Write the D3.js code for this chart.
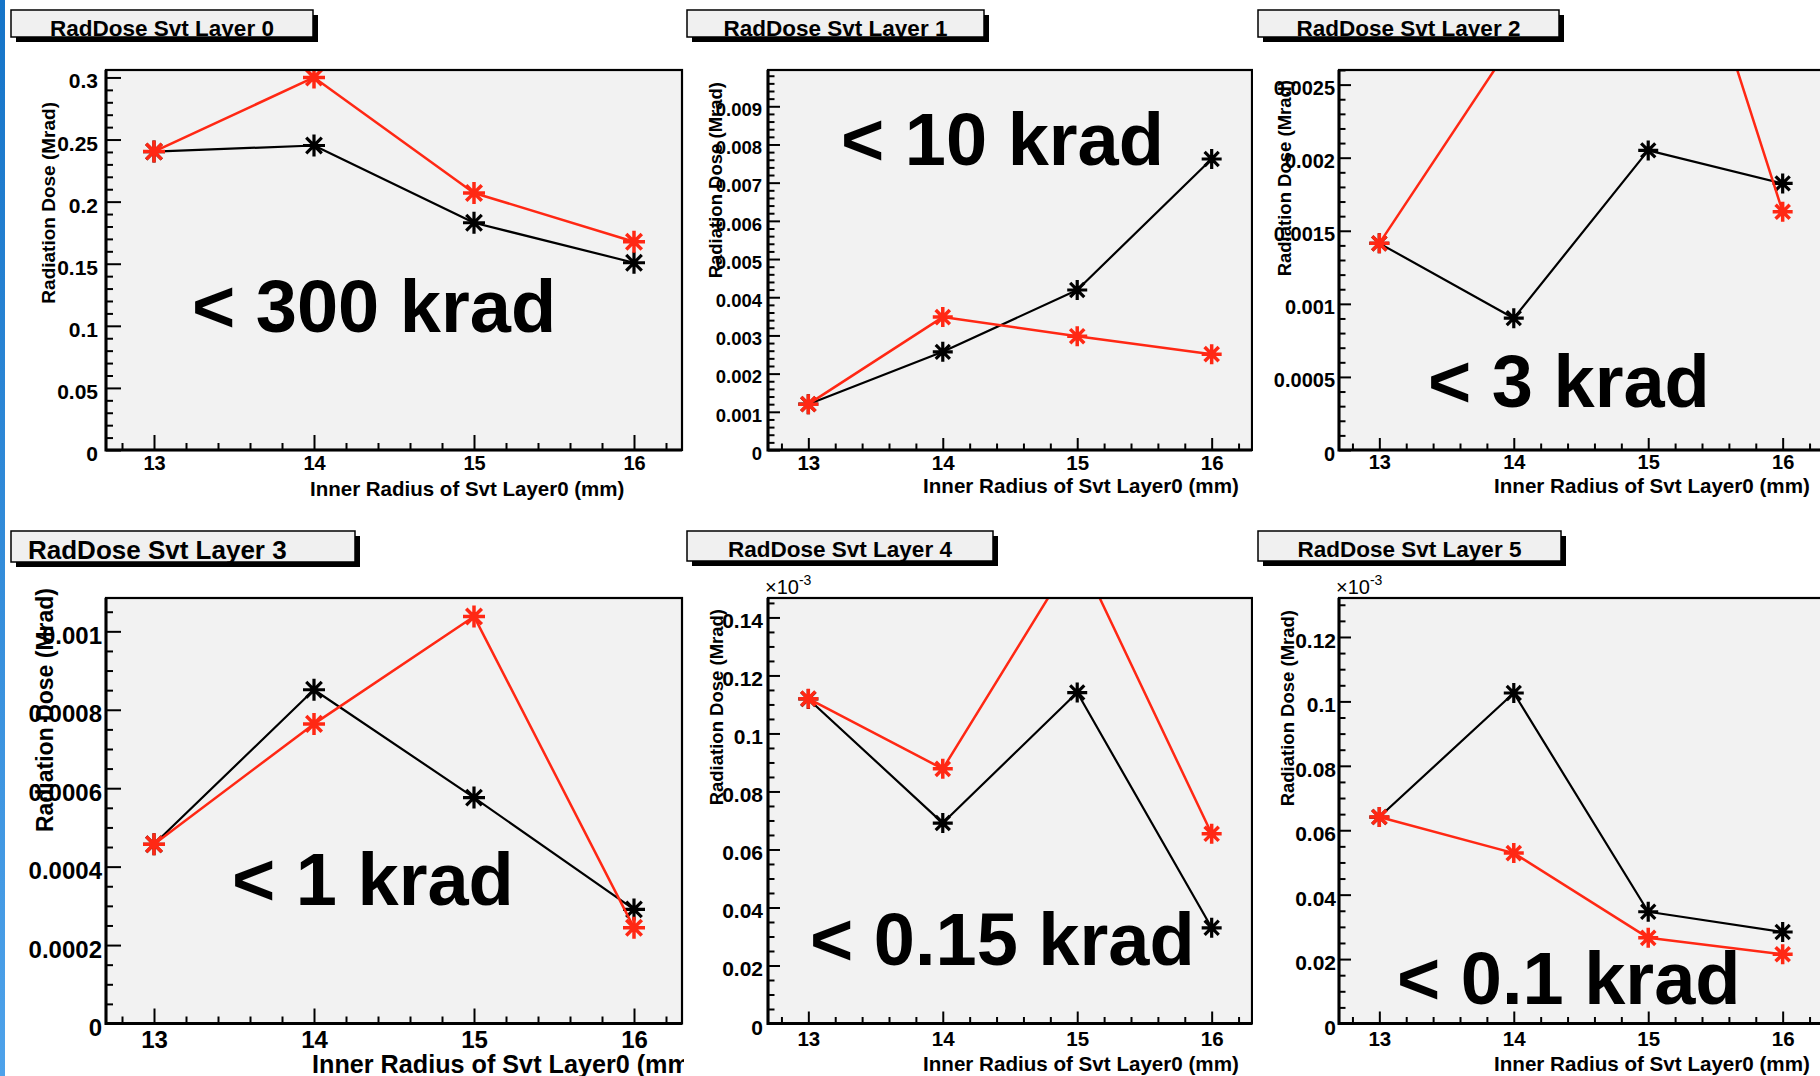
<!DOCTYPE html>
<html>
<head>
<meta charset="utf-8">
<script src="https://cdn.jsdelivr.net/npm/d3@7"></script>
<style>
  body { margin: 0; background: #fff; }
  svg { display: block; }
</style>
</head>
<body>
<div id="chart"></div>
<script>
//x values shared by every pad (inner radius of Svt layer0, mm)
var radius = [13, 14, 15, 16];

//radiation dose in Mrad, black and red set for each layer
var layer0Black = [0.2403, 0.2452, 0.1830, 0.1508];
var layer0Red   = [0.2403, 0.3000, 0.2070, 0.1677];
var layer1Black = [0.00120, 0.00257, 0.00419, 0.00762];
var layer1Red   = [0.00120, 0.00348, 0.00298, 0.00251];
var layer2Black = [0.001414, 0.000902, 0.00205, 0.001824];
var layer2Red   = [0.001414, 0.00280, 0.00450, 0.00163];
var layer3Black = [0.000457, 0.000851, 0.000576, 0.000291];
var layer3Red   = [0.000457, 0.000764, 0.001038, 0.000244];
var layer4Black = [0.1119e-3, 0.0691e-3, 0.1141e-3, 0.0330e-3];
var layer4Red   = [0.1120e-3, 0.0878e-3, 0.1630e-3, 0.0654e-3];
var layer5Black = [0.0641e-3, 0.1026e-3, 0.0347e-3, 0.0284e-3];
var layer5Red   = [0.0641e-3, 0.0529e-3, 0.0266e-3, 0.0215e-3];

var titles = ["RadDose Svt Layer 0", "RadDose Svt Layer 1", "RadDose Svt Layer 2",
              "RadDose Svt Layer 3", "RadDose Svt Layer 4", "RadDose Svt Layer 5"];
var notes = ["< 300 krad", "< 10 krad", "< 3 krad", "< 1 krad", "< 0.15 krad", "< 0.1 krad"];
var xTitle = "Inner Radius of Svt Layer0 (mm)";
var yTitle = "Radiation Dose (Mrad)";

var xRange = [12.7, 16.3];
var red = "#ff2814";
var font = "'Liberation Sans', Arial, Helvetica, sans-serif";

//pad layout: frame = [x0, y0, x1, y1], box = [x, y, w, h], text spots = [x, baseline, size]
var pads = [
  {title: titles[0], noteText: notes[0], black: layer0Black, red: layer0Red,
   yMax: 0.306, step: 0.05, minor: 0.01, unit: 1,
   frame: [106, 70, 682, 450], crop: [6, 0, 684, 520],
   box: [11, 10, 302, 27], boxText: [null, 36, 22.5],
   yFont: 21, xFont: 20, yPad: 8, xPad: 6, major: 15, minorLen: 7, marker: 11,
   xTitle: [310, 496, 20.5], yTitle: [55, 102, 19], note: [192, 332]},
  {title: titles[1], noteText: notes[1], black: layer1Black, red: layer1Red,
   yMax: 0.00995, step: 0.001, minor: 0.0002, unit: 1,
   frame: [768, 70, 1252, 450], crop: [684, 0, 1253, 520],
   box: [687, 10, 297, 27], boxText: [null, 36, 22.5],
   yFont: 18.5, xFont: 20.5, yPad: 6, xPad: 5, major: 12, minorLen: 6.5, marker: 10,
   xTitle: [923, 493, 20.6], yTitle: [722, 82, 18.5], note: [841, 165]},
  {title: titles[2], noteText: notes[2], black: layer2Black, red: layer2Red,
   yMax: 0.0026, step: 0.0005, minor: 0.0001, unit: 1,
   frame: [1339, 70, 1823, 450], crop: [1253, 0, 1820, 520],
   box: [1258, 10, 301, 27], boxText: [null, 36, 22.5],
   yFont: 20, xFont: 20, yPad: 4, xPad: 5, major: 12, minorLen: 6.5, marker: 10,
   xTitle: [1494, 493, 20.6], yTitle: [1291, 80, 18.5], note: [1428, 407]},
  {title: titles[3], noteText: notes[3], black: layer3Black, red: layer3Red,
   yMax: 0.001085, step: 0.0002, minor: 0.00005, unit: 1,
   frame: [106, 598, 682, 1023.5], crop: [6, 520, 684, 1076],
   box: [11, 531, 344, 31], boxText: [28, 559, 26],
   yFont: 24, xFont: 24, yPad: 4, xPad: 7, major: 15, minorLen: 7, marker: 11,
   xTitle: [312, 1073, 25.2], yTitle: [53, 588, 23], note: [232, 905]},
  {title: titles[4], noteText: notes[4], black: layer4Black, red: layer4Red,
   yMax: 0.1467e-3, step: 0.02e-3, minor: 0.005e-3, unit: 1e-3, exp: [765, 594],
   frame: [768, 598, 1252, 1023.5], crop: [684, 520, 1253, 1076],
   box: [687, 531, 306, 30], boxText: [null, 557, 22.5],
   yFont: 21, xFont: 20.5, yPad: 5, xPad: 8, major: 12, minorLen: 6.5, marker: 10,
   xTitle: [923, 1071, 20.6], yTitle: [723, 609, 18.5], note: [810, 965]},
  {title: titles[5], noteText: notes[5], black: layer5Black, red: layer5Red,
   yMax: 0.1321e-3, step: 0.02e-3, minor: 0.005e-3, unit: 1e-3, exp: [1336, 594],
   frame: [1339, 598, 1823, 1023.5], crop: [1253, 520, 1820, 1076],
   box: [1258, 531, 303, 30], boxText: [null, 557, 22.5],
   yFont: 21, xFont: 20.5, yPad: 3, xPad: 8, major: 12, minorLen: 6.5, marker: 10,
   xTitle: [1494, 1071, 20.6], yTitle: [1294, 610, 18.5], note: [1397, 1004]}
];

var svg = d3.select("#chart").append("svg")
  .attr("width", 1820)
  .attr("height", 1076)
  .attr("font-family", font)
  .attr("font-weight", "bold");

var defs = svg.append("defs");

//white slide with the blue strip on its left edge
svg.append("rect").attr("width", 1820).attr("height", 1076).attr("fill", "#fff");
var grad = defs.append("linearGradient").attr("id", "edge")
  .attr("x1", 0).attr("y1", 0).attr("x2", 0).attr("y2", 1);
grad.append("stop").attr("offset", "0%").attr("stop-color", "#1574c8");
grad.append("stop").attr("offset", "100%").attr("stop-color", "#4ea2ea");
svg.append("rect").attr("x", 0).attr("y", 0).attr("width", 5).attr("height", 1076)
  .attr("fill", "url(#edge)");

//tick positions 0, step, 2*step ... up to max
function tickList(max, step) {
  var n = Math.floor(max / step + 1e-6);
  return d3.range(n + 1).map(function(i) { return +(i * step).toPrecision(8); });
}

//ROOT marker 3 (asterisk)
function star(r) {
  var d = r * 0.7071;
  return "M" + (-r) + ",0L" + r + ",0M0," + (-r) + "L0," + r +
    "M" + (-d) + "," + (-d) + "L" + d + "," + d + "M" + (-d) + "," + d + "L" + d + "," + (-d);
}

function styleAxis(sel, size) {
  sel.attr("font-family", font).attr("font-size", size);
  sel.select(".domain").remove();
  sel.selectAll("line").attr("stroke", "#000").attr("stroke-width", 2);
  sel.selectAll("text").attr("fill", "#000");
}

function drawPad(p, i) {
  defs.append("clipPath").attr("id", "crop" + i).append("rect")
    .attr("x", p.crop[0]).attr("y", p.crop[1])
    .attr("width", p.crop[2] - p.crop[0]).attr("height", p.crop[3] - p.crop[1]);
  var g = svg.append("g").attr("clip-path", "url(#crop" + i + ")");

  var x = d3.scaleLinear().domain(xRange).range([p.frame[0], p.frame[2]]);
  var y = d3.scaleLinear().domain([0, p.yMax]).range([p.frame[3], p.frame[1]]);

  //title box with drop shadow
  g.append("rect")
    .attr("x", p.box[0] + 5).attr("y", p.box[1] + 5)
    .attr("width", p.box[2]).attr("height", p.box[3])
    .attr("fill", "#000");
  g.append("rect")
    .attr("x", p.box[0]).attr("y", p.box[1])
    .attr("width", p.box[2]).attr("height", p.box[3])
    .attr("fill", "#f0f0f0").attr("stroke", "#000").attr("stroke-width", 1.5);
  defs.append("clipPath").attr("id", "box" + i).append("rect")
    .attr("x", p.box[0]).attr("y", p.box[1])
    .attr("width", p.box[2]).attr("height", p.box[3]);
  var centred = p.boxText[0] === null;
  g.append("text")
    .attr("clip-path", "url(#box" + i + ")")
    .attr("x", centred ? p.box[0] + p.box[2] / 2 : p.boxText[0])
    .attr("y", p.boxText[1])
    .attr("text-anchor", centred ? "middle" : "start")
    .attr("font-size", p.boxText[2])
    .text(p.title);

  //frame background
  g.append("rect")
    .attr("x", p.frame[0]).attr("y", p.frame[1])
    .attr("width", p.frame[2] - p.frame[0]).attr("height", p.frame[3] - p.frame[1])
    .attr("fill", "#f2f2f2");

  //graphs, clipped to the frame
  defs.append("clipPath").attr("id", "frame" + i).append("rect")
    .attr("x", p.frame[0]).attr("y", p.frame[1])
    .attr("width", p.frame[2] - p.frame[0]).attr("height", p.frame[3] - p.frame[1]);
  var plot = g.append("g").attr("clip-path", "url(#frame" + i + ")");

  var series = [
    {values: p.black, color: "#000", width: 2.2},
    {values: p.red, color: red, width: 2.5}
  ];
  series.forEach(function(s) {
    var pts = radius.map(function(r, j) { return [r, s.values[j]]; });
    var line = d3.line()
      .x(function(d) { return x(d[0]); })
      .y(function(d) { return y(d[1]); });
    plot.append("path").datum(pts)
      .attr("d", line)
      .attr("fill", "none")
      .attr("stroke", s.color)
      .attr("stroke-width", s.width)
      .attr("stroke-linejoin", "round");
    plot.selectAll(null).data(pts).enter().append("path")
      .attr("transform", function(d) { return "translate(" + x(d[0]) + "," + y(d[1]) + ")"; })
      .attr("d", star(p.marker))
      .attr("fill", "none")
      .attr("stroke", s.color)
      .attr("stroke-width", s.width + 1);
  });

  //axes: ticks point into the frame
  var majors = tickList(p.yMax, p.step);
  var minors = tickList(p.yMax, p.minor).filter(function(v) {
    var k = v / p.step;
    return Math.abs(k - Math.round(k)) > 1e-6;
  });
  var fmt = function(v) { return String(+(v / p.unit).toPrecision(6)); };

  g.append("g")
    .attr("transform", "translate(" + p.frame[0] + ",0)")
    .call(d3.axisLeft(y).tickValues(minors).tickSize(-p.minorLen).tickFormat(""))
    .call(styleAxis, p.yFont);
  g.append("g")
    .attr("transform", "translate(" + p.frame[0] + ",0)")
    .call(d3.axisLeft(y).tickValues(majors).tickSize(-p.major).tickPadding(p.yPad).tickFormat(fmt))
    .call(styleAxis, p.yFont)
    .selectAll("text").attr("dy", "0.5em");

  var xMinor = d3.range(64, 82).map(function(k) { return k / 5; })
    .filter(function(v) { return v !== Math.round(v); });
  g.append("g")
    .attr("transform", "translate(0," + p.frame[3] + ")")
    .call(d3.axisBottom(x).tickValues(xMinor).tickSize(-p.minorLen).tickFormat(""))
    .call(styleAxis, p.xFont);
  g.append("g")
    .attr("transform", "translate(0," + p.frame[3] + ")")
    .call(d3.axisBottom(x).tickValues(radius).tickSize(-p.major).tickPadding(p.xPad).tickFormat(d3.format("d")))
    .call(styleAxis, p.xFont);

  //frame outline, axis sides a bit heavier
  g.append("rect")
    .attr("x", p.frame[0]).attr("y", p.frame[1])
    .attr("width", p.frame[2] - p.frame[0]).attr("height", p.frame[3] - p.frame[1])
    .attr("fill", "none").attr("stroke", "#000").attr("stroke-width", 2.2);
  g.append("path")
    .attr("d", "M" + p.frame[0] + "," + p.frame[1] + "V" + p.frame[3] + "H" + p.frame[2])
    .attr("fill", "none").attr("stroke", "#000").attr("stroke-width", 3);

  //axis titles
  g.append("text")
    .attr("x", p.xTitle[0]).attr("y", p.xTitle[1])
    .attr("font-size", p.xTitle[2])
    .text(xTitle);
  g.append("text")
    .attr("transform", "translate(" + p.yTitle[0] + "," + p.yTitle[1] + ") rotate(-90)")
    .attr("text-anchor", "end")
    .attr("font-size", p.yTitle[2])
    .text(yTitle);

  //exponent label for the 1e-3 pads
  if (p.exp) {
    var e = g.append("text")
      .attr("x", p.exp[0]).attr("y", p.exp[1])
      .attr("font-size", 20).attr("font-weight", "normal");
    e.append("tspan").text("\u00d710");
    e.append("tspan").attr("dy", -9).attr("font-size", 14).text("-3");
  }

  //big dose note
  g.append("text")
    .attr("x", p.note[0]).attr("y", p.note[1])
    .attr("font-size", 74)
    .text(p.noteText);
}

pads.forEach(drawPad);
</script>
</body>
</html>
